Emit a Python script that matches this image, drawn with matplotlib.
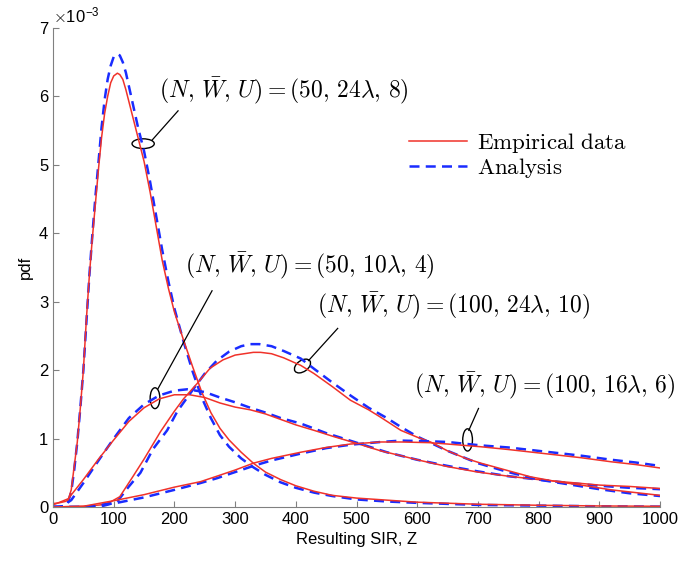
import numpy as np
import matplotlib
matplotlib.use('Agg')
import matplotlib.pyplot as plt
from matplotlib.patches import Ellipse
from matplotlib.transforms import ScaledTranslation

plt.rcParams['mathtext.fontset'] = 'cm'
plt.rcParams['font.family'] = ['Liberation Sans', 'DejaVu Sans']

# pdf values in units of 1e-3
# (N, W, U) = (50, 24 lambda, 8)
z_a_emp = [0, 10, 20, 25, 30, 35, 40, 45, 50, 55, 60, 65, 70, 75, 80, 85, 90, 95, 100, 106, 110, 115, 120,
           130, 140, 150, 160, 170, 180, 190, 200, 215, 230, 245, 260, 275, 290, 310, 330, 350, 375, 400,
           430, 460, 500, 550, 600, 700, 800, 900, 1000]
a_emp = [0.05, 0.06, 0.08, 0.1, 0.25, 0.6, 0.95, 1.45, 2.0, 2.75, 3.4, 3.95, 4.45, 4.95, 5.4, 5.75, 6.0, 6.2, 6.3,
         6.34, 6.32, 6.25, 6.1, 5.75, 5.4, 5.05, 4.6, 4.1, 3.6, 3.2, 2.85, 2.44, 2.05, 1.68, 1.38, 1.15, 0.98,
         0.8, 0.64, 0.51, 0.4, 0.31, 0.23, 0.17, 0.13, 0.1, 0.07, 0.04, 0.025, 0.015, 0.01]
z_a_ana = [0, 10, 20, 25, 30, 35, 40, 45, 50, 55, 60, 65, 70, 75, 80, 85, 90, 95, 100, 106, 110, 115, 120,
           130, 140, 150, 160, 170, 180, 190, 200, 215, 230, 245, 260, 275, 290, 310, 330, 350, 375, 400,
           430, 460, 500, 550, 600, 700, 800, 900, 1000]
a_ana = [0.0, 0.0, 0.02, 0.08, 0.22, 0.55, 0.95, 1.45, 2.0, 2.7, 3.4, 4.0, 4.55, 5.05, 5.55, 5.95, 6.25, 6.45, 6.58,
         6.62, 6.6, 6.5, 6.35, 5.95, 5.55, 5.2, 4.75, 4.25, 3.75, 3.3, 2.9, 2.42, 1.98, 1.6, 1.3, 1.05, 0.88,
         0.71, 0.58, 0.47, 0.36, 0.28, 0.21, 0.16, 0.11, 0.08, 0.06, 0.03, 0.02, 0.01, 0.005]

# (N, W, U) = (50, 10 lambda, 4)
z_b_emp = [0, 25, 50, 75, 100, 125, 150, 175, 200, 225, 250, 275, 300, 325, 350, 375, 400, 430, 462, 500,
           540, 573, 600, 650, 700, 750, 800, 850, 900, 950, 1000]
b_emp = [0.03, 0.12, 0.4, 0.7, 0.98, 1.25, 1.45, 1.58, 1.64, 1.64, 1.6, 1.52, 1.46, 1.42, 1.36, 1.28, 1.2, 1.12,
         1.03, 0.93, 0.82, 0.75, 0.69, 0.59, 0.51, 0.45, 0.4, 0.36, 0.32, 0.3, 0.27]
z_b_ana = [0, 20, 25, 30, 50, 75, 100, 125, 150, 175, 200, 221, 250, 275, 300, 325, 350, 375, 408, 450, 500,
           550, 600, 650, 700, 750, 800, 850, 900, 950, 1000]
b_ana = [0.0, 0.01, 0.07, 0.1, 0.35, 0.68, 1.0, 1.3, 1.5, 1.63, 1.7, 1.72, 1.68, 1.6, 1.53, 1.45, 1.38, 1.3,
         1.22, 1.08, 0.94, 0.8, 0.69, 0.6, 0.52, 0.45, 0.4, 0.35, 0.31, 0.28, 0.26]

# (N, W, U) = (100, 24 lambda, 10)
z_c_emp = [0, 50, 78, 94, 110, 132, 150, 177, 200, 215, 237, 259, 280, 300, 330, 342, 360, 380, 408, 430, 460,
           490, 520, 540, 573, 600, 622, 650, 680, 705, 750, 787, 830, 870, 920, 960, 1000]
c_emp = [0.0, 0.01, 0.03, 0.07, 0.15, 0.45, 0.7, 1.1, 1.4, 1.58, 1.8, 2.03, 2.15, 2.22, 2.26, 2.26, 2.24, 2.18,
         2.07, 1.95, 1.76, 1.56, 1.42, 1.31, 1.12, 1.02, 0.95, 0.82, 0.71, 0.64, 0.53, 0.44, 0.37, 0.32, 0.25,
         0.21, 0.17]
z_c_ana = [0, 50, 80, 105, 125, 144, 165, 188, 205, 226, 250, 270, 290, 310, 325, 340, 360, 380, 408, 430, 460,
           490, 520, 550, 573, 600, 650, 700, 750, 800, 850, 900, 950, 1000]
c_ana = [0.0, 0.0, 0.01, 0.07, 0.3, 0.5, 0.85, 1.12, 1.4, 1.66, 1.95, 2.14, 2.27, 2.35, 2.38, 2.38, 2.35, 2.28,
         2.17, 2.02, 1.82, 1.63, 1.45, 1.3, 1.17, 1.03, 0.82, 0.64, 0.51, 0.4, 0.33, 0.26, 0.2, 0.16]

# (N, W, U) = (100, 16 lambda, 6)
z_d = [0, 50, 105, 150, 200, 243, 270, 300, 330, 360, 408, 450, 490, 540, 573, 620, 650, 705, 750, 800, 870,
       920, 960, 1000]
d_emp = [0.0, 0.01, 0.1, 0.18, 0.29, 0.37, 0.45, 0.54, 0.64, 0.71, 0.8, 0.87, 0.92, 0.95, 0.95, 0.94, 0.92,
         0.88, 0.84, 0.79, 0.72, 0.66, 0.62, 0.57]
d_ana = [0.0, 0.0, 0.06, 0.14, 0.25, 0.35, 0.42, 0.51, 0.6, 0.68, 0.78, 0.86, 0.91, 0.95, 0.97, 0.96, 0.95,
         0.9, 0.87, 0.82, 0.75, 0.69, 0.65, 0.6]

labels = [r'$(N,\,\bar{W},\,U)=(50,\,24\lambda,\,8)$', r'$(N,\,\bar{W},\,U)=(50,\,10\lambda,\,4)$',
          r'$(N,\,\bar{W},\,U)=(100,\,24\lambda,\,10)$', r'$(N,\,\bar{W},\,U)=(100,\,16\lambda,\,6)$']

red = '#f0322a'
blue = '#1a2cff'

fig = plt.figure(figsize=(6.94, 5.61), dpi=100)
ax = fig.add_axes([0.0764, 0.0963, 0.8746, 0.8537])

pairs = [(z_a_emp, a_emp, z_a_ana, a_ana), (z_b_emp, b_emp, z_b_ana, b_ana),
         (z_c_emp, c_emp, z_c_ana, c_ana), (z_d, d_emp, z_d, d_ana)]
for i, (ze, ye, za, ya) in enumerate(pairs):
    ax.plot(za, ya, '--', color=blue, lw=1.8, dashes=(4, 2.5),
            label='Analysis' if i == 0 else None)
    ax.plot(ze, ye, '-', color=red, lw=1.1,
            label='Empirical data' if i == 0 else None)

# annotations: text anchor, ellipse centre/size (pt)/angle, leader line
ann = [
    ((175, 6.08), (148.5, 5.31), 16, 7, 0, (163, 5.36), (206, 5.79)),
    ((217, 3.53), (168, 1.59), 7, 15, 0, (173, 1.73), (262, 3.16)),
    ((435, 2.94), (411, 2.06), 13, 8, 35, (421, 2.14), (469, 2.61)),
    ((595, 1.78), (683, 0.98), 7, 16, 0, (685, 1.12), (701, 1.44)),
]
for lab, (tpos, epos, ew, eh, ang, l0, l1) in zip(labels, ann):
    ax.text(tpos[0], tpos[1], lab, fontsize=17, va='center', ha='left')
    el = Ellipse((0, 0), ew / 72, eh / 72, angle=ang, fill=False, lw=1.0, color='k',
                 transform=fig.dpi_scale_trans + ScaledTranslation(epos[0], epos[1], ax.transData))
    ax.add_patch(el)
    ax.plot([l0[0], l1[0]], [l0[1], l1[1]], color='k', lw=0.9)

ax.set_xlim(0, 1000)
ax.set_ylim(0, 7)
ax.set_xticks(np.arange(0, 1001, 100))
ax.set_yticks(np.arange(0, 8, 1))
ax.tick_params(direction='in', length=4, labelsize=12, color='#808080')
for s in ['top', 'right']:
    ax.spines[s].set_visible(False)
for s in ['left', 'bottom']:
    ax.spines[s].set_color('#808080')
ax.set_xlabel('Resulting SIR, Z', fontsize=12)
ax.set_ylabel('pdf', fontsize=12)
ax.text(0.0, 1.005, r'$\times$10$^{\mathregular{-3}}$', transform=ax.transAxes, fontsize=12,
        va='bottom', ha='left')

h, l = ax.get_legend_handles_labels()
order = [l.index('Empirical data'), l.index('Analysis')]
leg = ax.legend([h[k] for k in order], [r'$\mathrm{Empirical\ data}$', r'$\mathrm{Analysis}$'],
                loc='upper left', bbox_to_anchor=(0.553, 0.828), frameon=False, fontsize=16.5,
                handlelength=2.5, handletextpad=0.45, labelspacing=0.05)

fig.savefig('out.png', dpi=100)
